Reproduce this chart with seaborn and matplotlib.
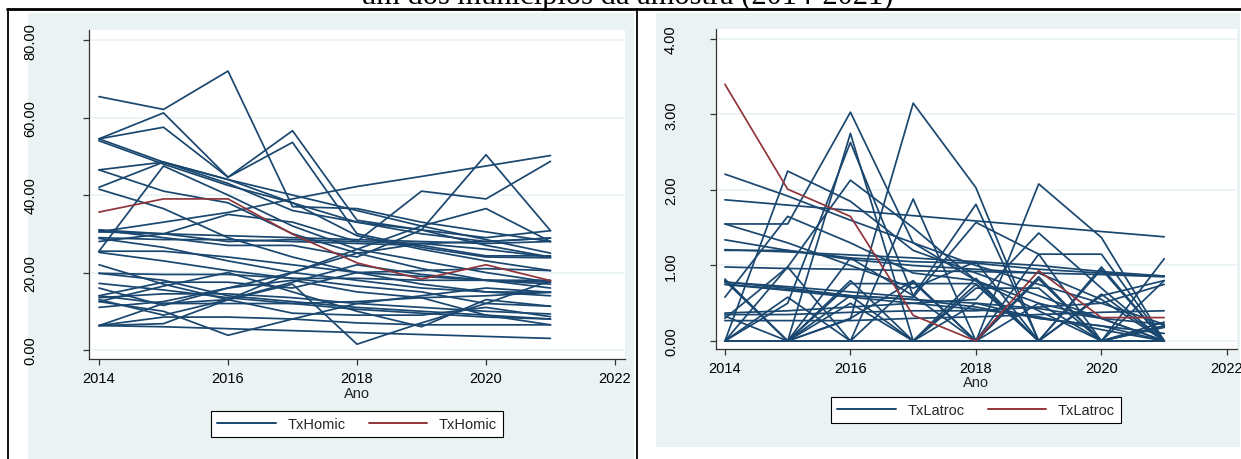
import matplotlib
matplotlib.use("Agg")
import matplotlib.pyplot as plt
import numpy as np
import pandas as pd
import seaborn as sns
from matplotlib.patches import Rectangle
from matplotlib.lines import Line2D

# ---------------------------------------------------------------- data
years = [2014, 2015, 2016, 2017, 2018, 2019, 2020, 2021]

# homicide rate per municipality (None = year not observed)
homic_series = [
    [65.4, 62.1, 72.0, 37.0, 36.5, 33.0, 30.5, 28.0],
    [54.5, 61.2, 44.6, 56.6, 33.5, 31.0, 27.0, 24.0],
    [54.5, 57.5, 44.6, 53.6, 30.0, 26.5, 24.0, 23.8],
    [54.5, 48.5, 44.0, 40.0, 36.0, 32.0, 28.5, 25.0],
    [54.0, 48.0, 42.5, 38.0, 33.0, 30.0, 28.0, 28.9],
    [46.5, 41.0, 38.0, 30.0, 25.0, 21.0, 18.0, 16.0],
    [46.5, 48.5, 43.0, 36.0, 33.0, 31.0, 29.0, 30.8],
    [42.0, 48.5, 44.0, 38.0, 29.5, 26.0, 23.0, 20.5],
    [41.5, 36.5, 29.0, 24.0, 20.0, 17.0, 15.0, 14.0],
    [25.5, 47.5, 40.0, 32.0, 26.0, 23.0, 20.0, 17.5],
    [30.5, 33.0, 35.5, 39.0, 42.2, 44.8, 47.5, 50.2],
    [28.0, 30.0, 35.0, 33.0, 28.0, 41.0, 39.0, 48.7],
    [31.0, 29.0, 27.0, 27.0, 24.0, 31.0, 50.4, 30.8],
    [31.0, 30.0, 29.5, 29.0, 28.5, 28.0, 27.5, 28.0],
    [30.5, 30.0, 28.0, 28.5, 28.0, 27.5, 28.0, 28.9],
    [29.0, 28.5, 28.5, 28.0, 27.5, 27.0, 24.3, 24.3],
    [28.8, 26.5, 23.0, 20.0, 18.0, 16.0, 15.0, 14.9],
    [25.5, 25.5, 24.0, 22.0, 20.0, 19.0, 18.0, 17.0],
    [25.2, 23.0, 20.5, 18.5, 16.5, 15.0, 12.0, 11.3],
    [19.8, 18.0, 14.0, 12.5, 11.0, 10.0, 9.0, 8.0],
    [19.8, 19.5, 19.5, 18.5, 18.5, 18.0, 18.0, 18.0],
    [17.2, 15.5, 13.5, 12.0, 10.5, 9.5, 8.5, 8.0],
    [14.0, 17.5, 17.5, 16.0, 20.0, 20.5, 21.0, 20.5],
    [14.0, 12.0, 13.0, 17.5, 22.0, 19.5, 18.0, 17.5],
    [13.5, 14.5, 14.5, 13.5, 12.0, 14.0, 16.0, 14.9],
    [12.5, 10.0, 3.8, 8.0, 12.0, 11.0, 10.0, 9.3],
    [11.0, 12.5, 16.0, 20.0, 26.0, 32.0, 36.5, 28.0],
    [6.3, 6.8, 13.0, 20.0, 25.0, 27.5, 26.0, 24.0],
    [6.3, 8.5, 8.5, 8.0, 7.0, 6.5, 6.5, 6.5],
    [6.3, 6.0, 5.5, 5.0, 4.5, 4.0, 3.5, 3.0],
    [6.3, 12.0, 12.0, 12.0, 12.5, 13.5, 14.0, 14.9],
    [13.0, 9.0, 13.0, 17.0, 1.5, 7.0, 12.0, 17.9],
    [12.5, 16.5, 20.0, 15.0, 10.0, 6.0, 13.0, 11.3],
    [16.0, 11.5, 16.0, 18.0, 15.0, 13.5, 9.0, 6.5],
    [22.0, 17.0, 13.0, 9.5, 9.0, 9.0, 11.0, 8.6],
]
homic_red = [35.6, 39.0, 39.0, 29.9, 22.5, 18.3, 22.0, 17.9]

# robbery-homicide rate per municipality
latroc_series = [
    [2.21, 1.92, 1.60, 1.30, 1.00, 0.75, 0.50, 0.22],
    [0.00, 2.25, 1.85, 1.20, 0.90, 0.60, 0.30, 0.00],
    [1.55, 1.55, 3.03, 1.30, 0.80, 0.50, 0.30, 0.00],
    [0.80, 0.00, 2.75, 0.00, 0.50, 0.30, 0.20, 0.00],
    [0.00, 0.50, 2.63, 0.60, 0.00, 1.15, 0.00, 0.20],
    [0.30, 0.98, 2.13, 1.50, 0.80, 0.40, 0.00, 0.00],
    [0.00, 0.00, 0.29, 3.15, 2.03, 0.00, 0.00, 0.00],
    [0.00, 0.00, 0.30, 0.80, 0.00, 2.08, 1.37, 0.00],
    [1.87, 1.80, 1.73, 1.66, 1.59, 1.52, 1.45, 1.38],
    [1.34, 1.20, 1.10, 1.05, 1.03, 0.95, 0.90, 0.86],
    [1.21, 1.18, 1.14, 1.10, 1.05, 1.00, 0.92, 0.86],
    [0.98, 0.96, 0.95, 0.93, 0.92, 0.90, 0.88, 0.85],
    [0.82, 0.00, 1.10, 0.60, 1.81, 0.00, 0.60, 0.80],
    [0.78, 0.72, 0.65, 0.58, 1.57, 1.15, 1.15, 0.00],
    [0.75, 0.68, 0.60, 0.55, 0.50, 0.43, 0.30, 0.22],
    [0.58, 1.65, 1.30, 0.90, 0.80, 0.00, 0.00, 0.00],
    [0.37, 0.40, 0.45, 0.50, 0.55, 1.43, 0.70, 0.00],
    [0.33, 0.00, 0.50, 0.00, 0.75, 0.00, 0.95, 0.00],
    [0.27, 0.27, 0.27, 0.30, 0.32, 0.35, 0.38, 0.40],
    [0.00, 0.00, 0.00, 0.00, 0.00, 0.00, 0.00, 0.00],
    [0.00, 0.98, 0.00, 0.78, 0.00, 0.85, 0.00, 0.80],
    [0.00, 0.00, 0.76, 0.76, 0.76, 0.00, 0.98, 0.00],
    [0.80, 0.00, 0.80, 0.00, 0.70, 0.70, 0.00, 0.20],
    [0.00, 0.58, 0.00, 1.88, 0.00, 0.50, 0.00, 0.00],
    [1.55, 1.30, 1.00, 0.70, 1.05, 0.00, 0.00, 0.25],
    [0.78, 0.70, 0.60, 0.55, 0.45, 0.30, 0.20, 0.10],
    [0.75, 0.67, 0.58, 0.50, 0.42, 0.32, 0.15, 0.00],
    [0.00, 0.00, 0.00, 0.00, 0.83, 0.00, 0.00, 1.09],
    [0.00, 0.00, 0.60, 0.00, 0.00, 0.00, 0.62, 0.00],
    [0.00, 0.00, 0.00, 0.00, 0.00, 0.82, 0.00, 0.18],
    [0.35, 0.35, 0.38, 0.40, 0.40, 0.45, 0.50, 0.75],
    [0.00, 0.00, 0.00, 0.00, 0.00, 0.00, 0.00, 0.20],
    [1.20, 1.20, 1.08, 1.00, 0.95, 0.90, 0.55, 0.00],
]
latroc_red = [3.40, 2.01, 1.65, 0.34, 0.00, 0.93, 0.31, 0.31]

homic_yticks = [0, 20, 40, 60, 80]
latroc_yticks = [0, 1, 2, 3, 4]
xticks = [2014, 2016, 2018, 2020, 2022]
title_tail = "um dos municípios da amostra (2014-2021)"

# ---------------------------------------------------------------- style
NAVY = "#1a476f"
RED = "#90353b"
PANEL = "#eaf2f3"
AXIS = "#333333"

sns.set_theme(style="white")
plt.rcParams["font.family"] = ["Liberation Sans", "DejaVu Sans"]

W, H = 1241, 460
fig = plt.figure(figsize=(W / 100, H / 100), dpi=100)
fig.patch.set_facecolor("white")


def fx(px):
    return px / W


def fy(py):
    return 1 - py / H


# panel backgrounds (kept behind the axes)
fig.patches.append(Rectangle((fx(28), fy(460)), fx(634) - fx(28), fy(14) - fy(460),
                             transform=fig.transFigure, facecolor=PANEL, edgecolor="none", zorder=-5))
fig.patches.append(Rectangle((fx(656), fy(448)), fx(1240) - fx(656), fy(14) - fy(448),
                             transform=fig.transFigure, facecolor=PANEL, edgecolor="none", zorder=-5))

# document table rules
fig.add_artist(Line2D([fx(7), 1.0], [fy(10), fy(10)], transform=fig.transFigure, color="black", lw=2))
fig.add_artist(Line2D([fx(8), fx(8)], [0, fy(10)], transform=fig.transFigure, color="black", lw=1.3))
fig.add_artist(Line2D([fx(637), fx(637)], [0, fy(10)], transform=fig.transFigure, color="black", lw=1.3))

# caption line (tail of a wrapped caption)
fig.text(fx(627), fy(4), title_tail, ha="center", va="baseline",
         fontsize=22, family=["Liberation Serif", "DejaVu Serif"], color="black")


def long_frame(series, name):
    rows = []
    for i, vals in enumerate(series):
        for yr, v in zip(years, vals):
            if v is not None:
                rows.append((i, yr, v))
    return pd.DataFrame(rows, columns=["id", "Ano", name])


def panel(rect, series, red, name, yticks, ylim, xlim, ypad, xpad, xlabel_y, legend_xy):
    ax = fig.add_axes(rect)
    ax.set_zorder(1)
    ax.set_facecolor("white")
    df = long_frame(series, name)
    sns.lineplot(data=df, x="Ano", y=name, units="id", estimator=None,
                 color=NAVY, lw=1.25, ax=ax, legend=False, zorder=3)
    red_df = pd.DataFrame({"Ano": years, name: red})
    sns.lineplot(data=red_df, x="Ano", y=name, color=RED, lw=1.25, ax=ax,
                 legend=False, zorder=4)
    ax.set_xlim(*xlim)
    ax.set_ylim(*ylim)
    ax.set_xticks(xticks)
    ax.set_yticks(yticks)
    ax.set_yticklabels([f"{v:.2f}" for v in yticks], rotation=90, va="center")
    for t in yticks:
        ax.axhline(t, color=PANEL, lw=1.2, zorder=1)
    for s in ["top", "right"]:
        ax.spines[s].set_visible(False)
    for s in ["left", "bottom"]:
        ax.spines[s].set_color(AXIS)
        ax.spines[s].set_linewidth(0.9)
    ax.tick_params(axis="both", direction="out", length=4, width=0.9, color=AXIS,
                   labelsize=10.5, labelcolor="black")
    ax.tick_params(axis="y", pad=ypad)
    ax.tick_params(axis="x", pad=xpad)
    ax.tick_params(left=True, bottom=True)
    ax.set_xlabel("")
    ax.set_ylabel("")
    x0, x1 = rect[0], rect[0] + rect[2]
    fig.text((x0 + x1) / 2, fy(xlabel_y), "Ano", ha="center", va="center", fontsize=10.5)
    handles = [Line2D([], [], color=NAVY, lw=1.4), Line2D([], [], color=RED, lw=1.4)]
    leg = fig.legend(handles, [name, name], loc="center",
                     bbox_to_anchor=(fx(legend_xy[0]), fy(legend_xy[1])),
                     ncol=2, frameon=True, fancybox=False, framealpha=1,
                     edgecolor="black", fontsize=10.5, handlelength=4.0,
                     handletextpad=0.8, columnspacing=1.6, borderpad=0.4)
    leg.get_frame().set_linewidth(0.8)
    leg.set_zorder(2)
    return ax


panel([fx(89), fy(360), fx(625) - fx(89), fy(31) - fy(360)],
      homic_series, homic_red, "TxHomic", homic_yticks,
      (-2.32, 82.6), (2013.845, 2022.155), 33, 4.5, 394, (357, 425))

panel([fx(715.5), fy(350), fx(1237) - fx(715.5), fy(30) - fy(350)],
      latroc_series, latroc_red, "TxLatroc", latroc_yticks,
      (-0.106, 4.132), (2013.85, 2022.16), 23, 4.5, 383, (976, 411))

fig.savefig("out.png", dpi=100, facecolor="white")
